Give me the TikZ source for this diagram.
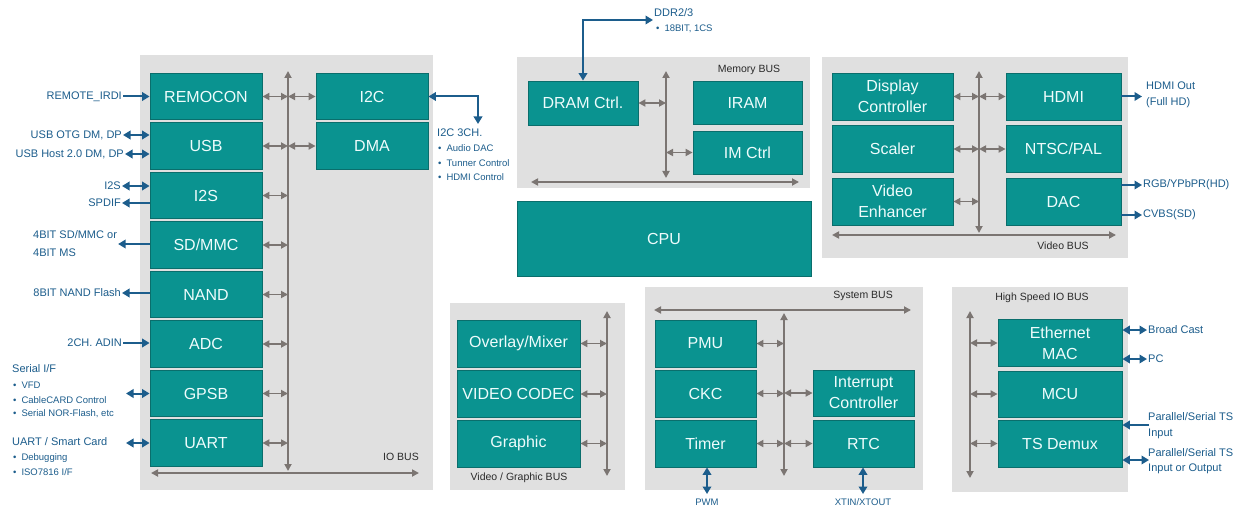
\documentclass[tikz,border=0pt]{standalone}
\usepackage{fontspec}
\setmainfont{Liberation Sans}
\usetikzlibrary{arrows.meta}
\definecolor{tealbox}{HTML}{0A9390}
\definecolor{tealedge}{HTML}{0A6E6C}
\definecolor{boxtxt}{HTML}{EEFCFC}
\definecolor{panelg}{HTML}{E0E0E0}
\definecolor{busg}{HTML}{7B7572}
\definecolor{extblue}{HTML}{1C5D8C}
\definecolor{buslbl}{HTML}{2A2A2A}
\begin{document}
\begin{tikzpicture}[x=1pt,y=-1pt,
 blk/.style={draw=tealedge, fill=tealbox, line width=0.8pt, text=boxtxt, font=\fontsize{16}{21}\selectfont, inner sep=0pt, align=center},
 panel/.style={fill=panelg, draw=none, inner sep=0pt, anchor=north west},
 busarr/.style={draw=busg, line width=1.8pt, {Triangle[length=7pt,width=7pt]}-{Triangle[length=7pt,width=7pt]}},
 ext/.style={draw=extblue, line width=2pt},
 dbl/.style={{Triangle[length=7.5pt,width=8.5pt]}-{Triangle[length=7.5pt,width=8.5pt]}},
 fwdarrow/.style={-{Triangle[length=7.5pt,width=8.5pt]}},
 lbl/.style={text=extblue, font=\fontsize{11}{13}\selectfont, inner sep=1pt},
 sub/.style={text=extblue, font=\fontsize{9.5}{11}\selectfont, inner sep=1pt, anchor=west},
 buslabel/.style={text=buslbl, font=\fontsize{10.5}{12}\selectfont, inner sep=0pt},
]
\useasboundingbox (0,0) rectangle (1246,513);
\fill[white] (0,0) rectangle (1246,513);

% ---------- panels ----------
\node[panel, minimum width=293pt, minimum height=435pt] (pio) at (140,55) {};
\node[panel, minimum width=293pt, minimum height=131pt] (pmem) at (517,57) {};
\node[panel, minimum width=306pt, minimum height=201pt] (pvid) at (822,57) {};
\node[panel, minimum width=175pt, minimum height=187pt] (pvg) at (450,303) {};
\node[panel, minimum width=278pt, minimum height=203pt] (psys) at (645,287) {};
\node[panel, minimum width=176pt, minimum height=205pt] (phs) at (952,287) {};

% ---------- IO BUS ----------
\foreach \n/\t/\y in {remocon/REMOCON/96.5, usb/USB/146, i2s/I2S/195.5, sdmmc/SD\slash MMC/245, nand/NAND/294.5, adc/ADC/344, gpsb/GPSB/393.5, uart/UART/443}
  \node[blk, minimum width=112pt, minimum height=46.5pt] (\n) at (206,\y) {\t};
\node[blk, minimum width=112pt, minimum height=46.5pt] (i2c) at (372,96.5) {I2C};
\node[blk, minimum width=112pt, minimum height=46.5pt] (dma) at (372,146) {DMA};
\coordinate (ioT) at (288,71);
\coordinate (ioB) at (288,471);
\coordinate (ioL) at (151,473);
\coordinate (ioR) at (419,473);
\draw[busarr] (ioT) -- (ioB);
\draw[busarr] (ioL) -- (ioR);
\foreach \n in {remocon,usb,i2s,sdmmc,nand,adc,gpsb,uart}
  \draw[busarr] (\n.east) -- (\n.east -| ioT);
\draw[busarr] (i2c.west -| ioT) -- (i2c.west);
\draw[busarr] (dma.west -| ioT) -- (dma.west);
\node[buslabel] (iobus) at (401,457) {IO BUS};

% left external signals
\node[lbl, anchor=east] (lremote) at (123,96.5) {REMOTE\_IRDI};
\draw[ext,fwdarrow] (lremote.east) -- (lremote.east -| remocon.west);
\node[lbl, anchor=east] (lotg) at (123,135) {USB OTG DM, DP};
\draw[ext,dbl] (lotg.east) -- (lotg.east -| usb.west);
\node[lbl, anchor=east] (lhost) at (125,154) {USB Host 2.0 DM, DP};
\draw[ext,dbl] (lhost.east) -- (lhost.east -| usb.west);
\node[lbl, anchor=east] (li2s) at (122,186) {I2S};
\draw[ext,dbl] (li2s.east) -- (li2s.east -| i2s.west);
\node[lbl, anchor=east] (lspdif) at (122,203) {SPDIF};
\draw[ext,fwdarrow] (lspdif.east -| i2s.west) -- (lspdif.east);
\node[lbl, anchor=west, align=left, font=\fontsize{11}{18}\selectfont] (lsd) at (32,244) {4BIT SD/MMC or\\4BIT MS};
\draw[ext,fwdarrow] (lsd.east -| sdmmc.west) -- (lsd.east);
\node[lbl, anchor=east] (lnand) at (122,293) {8BIT NAND Flash};
\draw[ext,fwdarrow] (lnand.east -| nand.west) -- (lnand.east);
\node[lbl, anchor=east] (ladc) at (123,343) {2CH. ADIN};
\draw[ext,fwdarrow] (ladc.east) -- (ladc.east -| adc.west);
\node[lbl, anchor=west] (lserial) at (11,369) {Serial I/F};
\node[sub] (lvfd) at (12,385) {\textbullet\hspace{5pt}VFD};
\node[sub] (lcable) at (12,400) {\textbullet\hspace{5pt}CableCARD Control};
\node[sub] (lnor) at (12,414) {\textbullet\hspace{5pt}Serial NOR-Flash, etc};
\coordinate (gpsbL) at (126,393.5);
\draw[ext,dbl] (gpsbL) -- (gpsb.west);
\node[lbl, anchor=west] (luart) at (11,442) {UART / Smart Card};
\node[sub] (ldebug) at (12,458) {\textbullet\hspace{5pt}Debugging};
\node[sub] (liso) at (12,472) {\textbullet\hspace{5pt}ISO7816 I/F};
\coordinate (uartL) at (126,443);
\draw[ext,dbl] (uartL) -- (uart.west);

% I2C external
\coordinate (i2cC) at (478,96.5);
\coordinate (i2cD) at (478,124);
\draw[ext,dbl] (i2c.east) -- (i2cC) -- (i2cD);
\node[lbl, anchor=west] (li2c) at (436,133) {I2C 3CH.};
\node[sub] (laudio) at (437,148) {\textbullet\hspace{5pt}Audio DAC};
\node[sub] (ltuner) at (437,163) {\textbullet\hspace{5pt}Tunner Control};
\node[sub] (lhdmic) at (437,177.5) {\textbullet\hspace{5pt}HDMI Control};

% ---------- Memory BUS ----------
\node[blk, minimum width=110pt, minimum height=44pt] (dram) at (583,103) {DRAM Ctrl.};
\node[blk, minimum width=109pt, minimum height=43pt] (iram) at (747.5,103) {IRAM};
\node[blk, minimum width=109pt, minimum height=43pt] (imctrl) at (747.5,152.5) {IM Ctrl};
\coordinate (memT) at (666,71);
\coordinate (memB) at (666,178);
\coordinate (memL) at (531,182);
\coordinate (memR) at (799,182);
\draw[busarr] (memT) -- (memB);
\draw[busarr] (memL) -- (memR);
\draw[busarr] (dram.east) -- (dram.east -| memT);
\draw[busarr] (imctrl.west -| memT) -- (imctrl.west);
\node[buslabel] (membus) at (749,70) {Memory BUS};
\coordinate (ddrC) at (583,20);
\coordinate (ddrE) at (653,20);
\draw[ext,dbl] (dram.north) -- (ddrC) -- (ddrE);
\node[lbl, anchor=west] (lddr) at (653,13) {DDR2/3};
\node[sub] (lddrb) at (655,29) {\textbullet\hspace{5pt}18BIT, 1CS};

% ---------- CPU ----------
\node[blk, minimum width=294pt, minimum height=75pt] (cpu) at (664,238.5) {CPU};

% ---------- Video BUS ----------
\node[blk, minimum width=121pt, minimum height=47pt] (disp) at (892.5,96.5) {Display\\Controller};
\node[blk, minimum width=121pt, minimum height=47pt] (scaler) at (892.5,149) {Scaler};
\node[blk, minimum width=121pt, minimum height=47pt] (venh) at (892.5,201.5) {Video\\Enhancer};
\node[blk, minimum width=115pt, minimum height=47pt] (hdmi) at (1063.5,96.5) {HDMI};
\node[blk, minimum width=115pt, minimum height=47pt] (ntsc) at (1063.5,149) {NTSC/PAL};
\node[blk, minimum width=115pt, minimum height=47pt] (dac) at (1063.5,201.5) {DAC};
\coordinate (vidT) at (979,71);
\coordinate (vidB) at (979,233);
\coordinate (vidL) at (832,235);
\coordinate (vidR) at (1116,235);
\draw[busarr] (vidT) -- (vidB);
\draw[busarr] (vidL) -- (vidR);
\draw[busarr] (disp.east) -- (disp.east -| vidT);
\draw[busarr] (scaler.east) -- (scaler.east -| vidT);
\draw[busarr] (venh.east) -- (venh.east -| vidT);
\draw[busarr] (hdmi.west -| vidT) -- (hdmi.west);
\draw[busarr] (ntsc.west -| vidT) -- (ntsc.west);
\node[buslabel] (vidbus) at (1063,246) {Video BUS};
\coordinate (hdmiOut) at (1142,96.5);
\draw[ext,fwdarrow] (hdmi.east) -- (hdmiOut);
\node[lbl, anchor=west] (lhdmi1) at (1145,86) {HDMI Out};
\node[lbl, anchor=west] (lhdmi2) at (1145,103) {(Full HD)};
\coordinate (rgbE) at (1142,185);
\draw[ext,fwdarrow] (rgbE -| dac.east) -- (rgbE);
\node[lbl, anchor=west] (lrgb) at (1142,185) {RGB/YPbPR(HD)};
\coordinate (cvbsE) at (1142,215);
\draw[ext,fwdarrow] (cvbsE -| dac.east) -- (cvbsE);
\node[lbl, anchor=west] (lcvbs) at (1142,215) {CVBS(SD)};

% ---------- Video / Graphic BUS ----------
\node[blk, minimum width=123pt, minimum height=47pt] (overlay) at (518.5,343.5) {Overlay/Mixer};
\node[blk, minimum width=123pt, minimum height=47pt] (codec) at (518.5,394) {VIDEO CODEC};
\node[blk, minimum width=123pt, minimum height=47pt] (graphic) at (518.5,443.5) {Graphic};
\coordinate (vgT) at (607,311);
\coordinate (vgB) at (607,476);
\draw[busarr] (vgT) -- (vgB);
\draw[busarr] (overlay.east) -- (overlay.east -| vgT);
\draw[busarr] (codec.east) -- (codec.east -| vgT);
\draw[busarr] (graphic.east) -- (graphic.east -| vgT);
\node[buslabel] (vgbus) at (519,477.5) {Video / Graphic BUS};

% ---------- System BUS ----------
\node[blk, minimum width=101pt, minimum height=47pt] (pmu) at (705.5,343.5) {PMU};
\node[blk, minimum width=101pt, minimum height=47pt] (ckc) at (705.5,393.5) {CKC};
\node[blk, minimum width=101pt, minimum height=47pt] (timer) at (705.5,443.5) {Timer};
\node[blk, minimum width=101pt, minimum height=46pt] (intc) at (863.5,393) {Interrupt\\Controller};
\node[blk, minimum width=101pt, minimum height=47pt] (rtc) at (863.5,443.5) {RTC};
\coordinate (sysL) at (654,310);
\coordinate (sysR) at (911,310);
\coordinate (sysT) at (784,313);
\coordinate (sysB) at (784,476);
\draw[busarr] (sysL) -- (sysR);
\draw[busarr] (sysT) -- (sysB);
\draw[busarr] (pmu.east) -- (pmu.east -| sysT);
\draw[busarr] (ckc.east) -- (ckc.east -| sysT);
\draw[busarr] (timer.east) -- (timer.east -| sysT);
\draw[busarr] (intc.west -| sysT) -- (intc.west);
\draw[busarr] (rtc.west -| sysT) -- (rtc.west);
\node[buslabel] (sysbus) at (863,295.5) {System BUS};
\coordinate (pwmB) at (707,494);
\draw[ext,dbl] (timer.south -| pwmB) -- (pwmB);
\node[sub, anchor=center] (lpwm) at (707,502.5) {PWM};
\coordinate (xtB) at (863,494);
\draw[ext,dbl] (rtc.south -| xtB) -- (xtB);
\node[sub, anchor=center] (lxt) at (863,502.5) {XTIN/XTOUT};

% ---------- High Speed IO BUS ----------
\node[blk, minimum width=124pt, minimum height=47pt] (eth) at (1060,343) {Ethernet\\MAC};
\node[blk, minimum width=124pt, minimum height=46pt] (mcu) at (1060,394) {MCU};
\node[blk, minimum width=124pt, minimum height=47pt] (tsd) at (1060,443.5) {TS Demux};
\coordinate (hsT) at (970,311);
\coordinate (hsB) at (970,478);
\draw[busarr] (hsT) -- (hsB);
\draw[busarr] (eth.west -| hsT) -- (eth.west);
\draw[busarr] (mcu.west -| hsT) -- (mcu.west);
\draw[busarr] (tsd.west -| hsT) -- (tsd.west);
\node[buslabel] (hsbus) at (1042,298) {High Speed IO BUS};
\coordinate (bcE) at (1147,330);
\draw[ext,dbl] (bcE -| eth.east) -- (bcE);
\node[lbl, anchor=west] (lbc) at (1147,330) {Broad Cast};
\coordinate (pcE) at (1147,359);
\draw[ext,dbl] (pcE -| eth.east) -- (pcE);
\node[lbl, anchor=west] (lpc) at (1147,359) {PC};
\coordinate (tsiE) at (1149,425);
\draw[ext,fwdarrow] (tsiE) -- (tsiE -| tsd.east);
\node[lbl, anchor=west] (lts1a) at (1147,417) {Parallel/Serial TS};
\node[lbl, anchor=west] (lts1b) at (1147,434) {Input};
\coordinate (tsoE) at (1149,460);
\draw[ext,dbl] (tsoE -| tsd.east) -- (tsoE);
\node[lbl, anchor=west] (lts2a) at (1147,453) {Parallel/Serial TS};
\node[lbl, anchor=west] (lts2b) at (1147,469) {Input or Output};
\end{tikzpicture}
\end{document}
